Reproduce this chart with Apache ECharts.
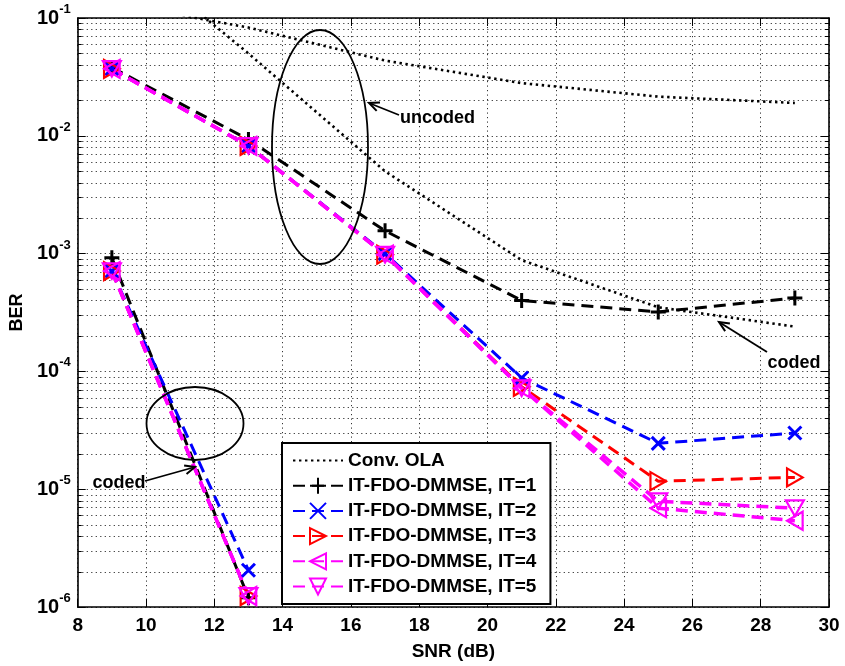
<!DOCTYPE html>
<html>
<head>
<meta charset="utf-8">
<script src="https://cdn.jsdelivr.net/npm/echarts@6/dist/echarts.min.js"></script>
<style>
  html, body { margin: 0; padding: 0; background: #fff; }
  #chart { width: 845px; height: 666px; }
</style>
</head>
<body>
<div id="chart"></div>
<script>
// ---- data ----
const snrTicks = [8, 10, 12, 14, 16, 18, 20, 22, 24, 26, 28, 30];
const berDecades = [1e-6, 1e-5, 1e-4, 1e-3, 1e-2, 1e-1];

const snrUncoded = [9, 13, 17, 21, 25, 29];
const snrCoded = [9, 13];

// conventional overlap-add receiver
const olaUncoded = [0.135, 0.083, 0.0435, 0.028, 0.0215, 0.019];
const olaCoded = [0.45, 0.05, 0.005, 0.00088, 0.00035, 0.00024];

// iterative FDO-DMMSE, uncoded
const it1Uncoded = [3.8e-2, 9.3e-3, 1.56e-3, 4.0e-4, 3.2e-4, 4.2e-4];
const it2Uncoded = [3.7e-2, 8.2e-3, 1.0e-3, 8.8e-5, 2.45e-5, 3.0e-5];
const it3Uncoded = [3.7e-2, 8.2e-3, 9.8e-4, 7.4e-5, 1.17e-5, 1.26e-5];
const it4Uncoded = [3.7e-2, 8.2e-3, 9.8e-4, 7.2e-5, 6.9e-6, 5.4e-6];
const it5Uncoded = [3.7e-2, 8.2e-3, 9.8e-4, 7.2e-5, 7.9e-6, 6.9e-6];

// iterative FDO-DMMSE, coded
const it1Coded = [9.2e-4, 1.2e-6];
const it2Coded = [7.1e-4, 2.05e-6];
const it3Coded = [7.1e-4, 1.24e-6];
const it4Coded = [7.1e-4, 1.24e-6];
const it5Coded = [7.1e-4, 1.24e-6];

const legendNames = [
  'Conv. OLA',
  'IT-FDO-DMMSE, IT=1',
  'IT-FDO-DMMSE, IT=2',
  'IT-FDO-DMMSE, IT=3',
  'IT-FDO-DMMSE, IT=4',
  'IT-FDO-DMMSE, IT=5'
];

// ---- styling ----
const FONT = '"Liberation Sans", Arial, Helvetica, sans-serif';
const DASH = [12, 7];

const itStyles = [
  { color: '#000000', symbol: 'path://M1,0L1,2M0,1L2,1', size: 15, bw: 3, lw: 3 },
  { color: '#0000ff', symbol: 'path://M0,0L2,2M2,0L0,2', size: 13, bw: 3, lw: 3 },
  { color: '#ff0000', symbol: 'path://M0,0L1.732,1L0,2Z', size: 18, bw: 2.2, lw: 3 },
  { color: '#ff00ff', symbol: 'path://M1.732,0L0,1L1.732,2Z', size: 18, bw: 2.2, lw: 3.5 },
  { color: '#ff00ff', symbol: 'path://M0,0L2,0L1,1.732Z', size: 18, bw: 2.2, lw: 3.5 }
];
const itUncoded = [it1Uncoded, it2Uncoded, it3Uncoded, it4Uncoded, it5Uncoded];
const itCoded = [it1Coded, it2Coded, it3Coded, it4Coded, it5Coded];

const pairs = (xs, ys) => xs.map((x, i) => [x, ys[i]]);

// minor log grid values (2..9 within each decade)
const minorValues = [];
for (let k = 0; k < berDecades.length - 1; k++) {
  for (let m = 2; m <= 9; m++) minorValues.push(m * berDecades[k]);
}

const GRID_COLOR = '#333333';
const GRID_DASH = [1.2, 3.3];
const gridDots = { color: GRID_COLOR, width: 1, type: GRID_DASH };

function olaSeries(xs, ys) {
  return {
    name: legendNames[0],
    type: 'line',
    data: pairs(xs, ys),
    symbol: 'circle',
    symbolSize: 0,
    showSymbol: false,
    itemStyle: { color: 'rgba(0,0,0,0)', borderWidth: 0 },
    lineStyle: { color: '#000', width: 2.6, type: [2.4, 3.6] },
    z: 2
  };
}

function itSeries(i, xs, ys) {
  const s = itStyles[i];
  return {
    name: legendNames[i + 1],
    type: 'line',
    data: pairs(xs, ys),
    symbol: s.symbol,
    symbolSize: s.size,
    symbolKeepAspect: true,
    showAllSymbol: true,
    itemStyle: { color: 'rgba(0,0,0,0)', borderColor: s.color, borderWidth: s.bw },
    lineStyle: { color: s.color, width: s.lw, type: DASH },
    z: 3
  };
}

// minor grid lines with short inward ticks on the left and right frame
const minorGridSeries = {
  type: 'custom',
  silent: true,
  z: 1,
  clip: false,
  data: minorValues.map(v => [snrTicks[0], v]),
  renderItem: function (params, api) {
    const v = api.value(1);
    const a = api.coord([snrTicks[0], v]);
    const b = api.coord([snrTicks[snrTicks.length - 1], v]);
    const y = Math.round(a[1]) + 0.5;
    return {
      type: 'group',
      children: [
        { type: 'line', shape: { x1: a[0], y1: y, x2: b[0], y2: y },
          style: { stroke: GRID_COLOR, lineWidth: 1, lineDash: GRID_DASH } },
        { type: 'line', shape: { x1: a[0], y1: y, x2: a[0] + 4, y2: y },
          style: { stroke: '#000', lineWidth: 1 } },
        { type: 'line', shape: { x1: b[0] - 4, y1: y, x2: b[0], y2: y },
          style: { stroke: '#000', lineWidth: 1 } }
      ]
    };
  }
};

const series = [minorGridSeries];
series.push(olaSeries(snrUncoded, olaUncoded));
series.push(olaSeries(snrUncoded, olaCoded));
for (let i = 0; i < 5; i++) {
  series.push(itSeries(i, snrUncoded, itUncoded[i]));
  series.push(itSeries(i, snrCoded, itCoded[i]));
}

const tickInside = { show: true, inside: true, length: 8, lineStyle: { color: '#000', width: 1 } };
const axisBlack = { show: true, lineStyle: { color: '#000', width: 1.6 } };

const option = {
  animation: false,
  backgroundColor: '#fff',
  grid: { left: 77, top: 18, right: 16, bottom: 54, containLabel: false },
  legend: {
    orient: 'vertical',
    left: 282,
    top: 443,
    padding: [8, 14, 8, 10],
    itemWidth: 50,
    itemHeight: 20,
    itemGap: 6.2,
    backgroundColor: '#fff',
    borderColor: '#000',
    borderWidth: 2,
    borderRadius: 0,
    selectedMode: false,
    textStyle: { fontFamily: FONT, fontWeight: 'bold', fontSize: 19, color: '#000' },
    data: legendNames.map(n => ({ name: n }))
  },
  xAxis: [
    {
      type: 'value',
      min: snrTicks[0],
      max: snrTicks[snrTicks.length - 1],
      interval: snrTicks[1] - snrTicks[0],
      name: 'SNR (dB)',
      nameLocation: 'middle',
      nameGap: 35,
      nameTextStyle: { fontFamily: FONT, fontWeight: 'bold', fontSize: 19, color: '#000' },
      axisLine: axisBlack,
      axisTick: tickInside,
      axisLabel: { fontFamily: FONT, fontWeight: 'bold', fontSize: 19, color: '#000', margin: 9 },
      splitLine: { show: true, lineStyle: gridDots }
    },
    {
      type: 'value',
      position: 'top',
      min: snrTicks[0],
      max: snrTicks[snrTicks.length - 1],
      interval: snrTicks[1] - snrTicks[0],
      axisLine: axisBlack,
      axisTick: tickInside,
      axisLabel: { show: false },
      splitLine: { show: false }
    }
  ],
  yAxis: [
    {
      type: 'log',
      logBase: 10,
      min: berDecades[0],
      max: berDecades[berDecades.length - 1],
      splitNumber: 5,
      name: 'BER',
      nameLocation: 'middle',
      nameGap: 50,
      nameTextStyle: { fontFamily: FONT, fontWeight: 'bold', fontSize: 18, color: '#000' },
      axisLine: axisBlack,
      axisTick: tickInside,
      axisLabel: {
        margin: 7,
        formatter: v => '{b|10}{s|' + Math.round(Math.log10(v)) + '}',
        rich: {
          b: { fontFamily: FONT, fontWeight: 'bold', fontSize: 20, lineHeight: 30, color: '#000' },
          s: { fontFamily: FONT, fontWeight: 'bold', fontSize: 13, lineHeight: 13, verticalAlign: 'top', color: '#000' }
        }
      },
      splitLine: { show: true, lineStyle: gridDots }
    },
    {
      type: 'log',
      logBase: 10,
      position: 'right',
      min: berDecades[0],
      max: berDecades[berDecades.length - 1],
      splitNumber: 5,
      axisLine: axisBlack,
      axisTick: tickInside,
      axisLabel: { show: false },
      splitLine: { show: false }
    }
  ],
  series: series
};

const chart = echarts.init(document.getElementById('chart'), null, { renderer: 'canvas' });
chart.setOption(option);

// ---- annotations: ellipses, arrows and labels ----
function arrow(x0, y0, x1, y1) {
  const a = Math.atan2(y1 - y0, x1 - x0), L = 11, w = 0.42;
  return [
    { type: 'line', shape: { x1: x0, y1: y0, x2: x1, y2: y1 }, style: { stroke: '#000', lineWidth: 1.8 }, z: 20 },
    {
      type: 'polyline',
      shape: { points: [
        [x1 - L * Math.cos(a - w), y1 - L * Math.sin(a - w)],
        [x1, y1],
        [x1 - L * Math.cos(a + w), y1 - L * Math.sin(a + w)]
      ] },
      style: { stroke: '#000', fill: null, lineWidth: 2 },
      z: 20
    }
  ];
}
function label(text, x, y, align) {
  return {
    type: 'text', z: 20,
    style: { text: text, x: x, y: y, align: align, verticalAlign: 'middle',
      fontFamily: FONT, fontWeight: 'bold', fontSize: 18, fill: '#000' }
  };
}
function ellipse(cx, cy, rx, ry) {
  return { type: 'ellipse', z: 20, shape: { cx: cx, cy: cy, rx: rx, ry: ry },
    style: { fill: null, stroke: '#000', lineWidth: 1.8 } };
}

const graphics = [
  ellipse(320, 147, 48, 117),
  ellipse(195, 423.5, 48.5, 36.5),
  ...arrow(399, 115, 369, 103),
  label('uncoded', 400, 118, 'left'),
  ...arrow(767, 352, 719, 322),
  label('coded', 794, 363, 'center'),
  ...arrow(145, 481, 195, 467),
  label('coded', 119, 483, 'center')
];
chart.setOption({ graphic: graphics });
</script>
</body>
</html>
